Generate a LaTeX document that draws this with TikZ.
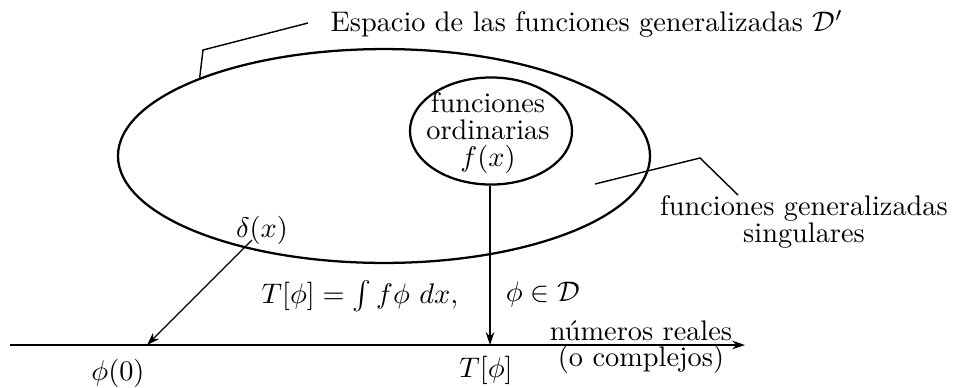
\documentclass[tikz,border=0pt]{standalone}
\usetikzlibrary{shapes.geometric,arrows.meta}
\begin{document}
\begin{tikzpicture}[x=0.353pt,y=-0.353pt,
  region/.style={draw,ellipse,line width=0.8pt,inner sep=0pt},
  leader/.style={line width=0.5pt},
  mapto/.style={line width=0.4pt,-{Stealth[length=4.5pt,width=3pt]}},
  lbl/.style={inner sep=0pt,align=center}]
\useasboundingbox (0,0) rectangle (959,387);
% regions
\node[region,minimum width=187.8pt,minimum height=75.5pt] (big) at (384,156) {};
\node[region,minimum width=57.2pt,minimum height=37.8pt] (small) at (491,131) {};
\node[lbl] (ord) at (488,133) {funciones\\[-2.5pt]ordinarias\\[-2.5pt]$f(x)$};
% labels
\node[lbl,anchor=west] (esp) at (330,24) {Espacio de las funciones generalizadas $\mathcal{D}'$};
\node[lbl] (sing) at (804,222) {funciones generalizadas\\[-2.5pt]singulares};
\node[lbl] (delta) at (262,230) {$\delta(x)$};
\node[lbl] (int) at (360,296) {$T[\phi]=\int f\phi\ dx,$};
\node[lbl] (inD) at (543,294) {$\phi\in\mathcal{D}$};
\node[lbl] (real) at (641,331) {números reales};
\node[lbl] (comp) at (641,359) {(o complejos)};
\node[lbl] (phi0) at (118,373) {$\phi(0)$};
\node[lbl] (Tphi) at (486,370) {$T[\phi]$};
% axis
\coordinate (axL) at (10,345);
\coordinate (axR) at (745,345);
\coordinate (d0) at (147,345);
\coordinate (t0) at (490,345);
\draw[line width=0.5pt,-{Stealth[length=4.5pt,width=3pt]}] (axL) -- (axR);
% leaders
\coordinate (e1) at (203,50);
\coordinate (e2) at (308,23);
\draw[leader] (big.157) -- (e1) -- (e2);
\coordinate (s0) at (595,184);
\coordinate (s1) at (700,158);
\coordinate (s2) at (738,195);
\draw[leader] (s0) -- (s1) -- (s2);
% mappings
\coordinate (dstart) at (252,240);
\draw[mapto] (dstart) -- (d0);
\draw[mapto] (small.south -| t0) -- (t0);
\end{tikzpicture}
\end{document}
